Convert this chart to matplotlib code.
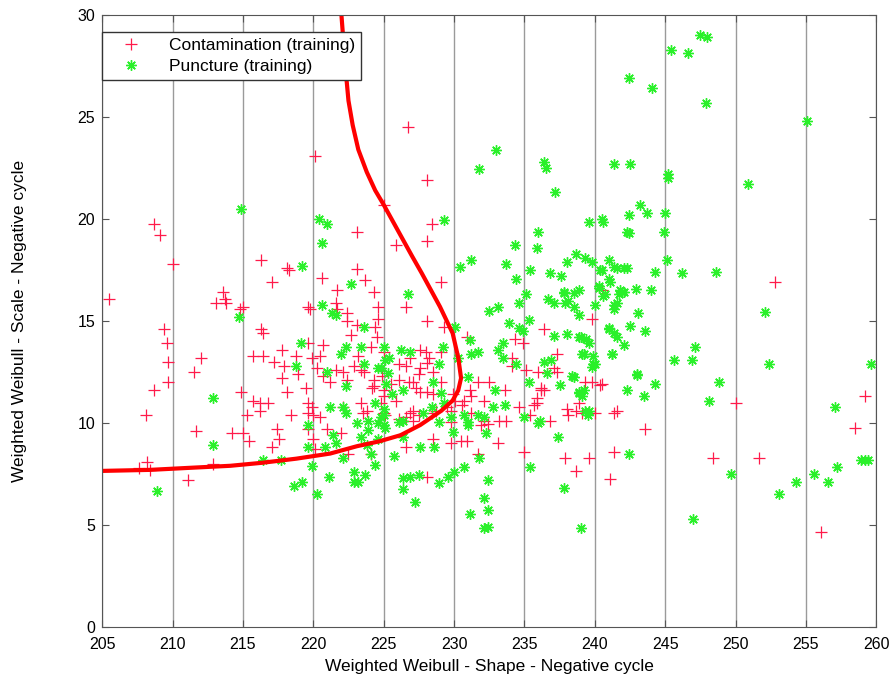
import numpy as np
import matplotlib
matplotlib.use("Agg")
import matplotlib.pyplot as plt

plt.rcParams["font.family"] = ["Liberation Sans", "DejaVu Sans"]

# Training samples (shape, scale) for the two fault classes
contamination_pts = [
    (205.5, 16.1), (208.7, 19.75), (209.1, 19.2), (210.0, 17.8), (209.4, 14.6),
    (209.6, 13.9), (209.7, 13.0), (209.7, 12.0), (208.7, 11.6), (208.1, 10.4),
    (207.6, 7.8), (208.2, 8.1), (208.4, 7.7), (211.1, 7.2), (211.7, 9.6),
    (212.9, 8.0), (214.2, 9.5), (215.0, 9.5), (215.4, 9.1), (217.4, 9.7),
    (217.6, 9.2), (217.1, 8.8), (219.6, 9.7), (220.0, 9.2), (220.1, 8.7),
    (221.0, 9.7), (222.0, 9.5), (222.5, 8.5), (224.1, 8.5), (212.0, 13.2),
    (211.5, 12.5), (213.1, 15.9), (213.6, 16.4), (213.7, 16.1), (213.8, 15.9),
    (214.8, 15.6), (215.0, 15.7), (216.3, 18.0), (218.1, 17.6), (218.3, 17.5),
    (217.1, 16.9), (216.3, 14.6), (216.4, 14.4), (215.7, 13.3), (216.4, 13.3),
    (217.2, 13.0), (217.8, 13.6), (217.9, 12.8), (217.8, 12.2), (218.8, 13.3),
    (218.9, 12.4), (218.1, 11.5), (219.5, 11.7), (219.6, 11.0), (214.9, 11.5),
    (215.7, 11.1), (216.2, 11.0), (216.8, 11.0), (216.2, 10.6), (215.3, 10.4),
    (218.4, 10.4), (219.6, 10.5), (220.0, 10.4), (220.5, 10.3), (219.6, 15.7),
    (219.8, 15.6), (220.6, 17.1), (223.1, 19.35), (223.1, 17.55), (223.7, 17.0),
    (221.7, 16.5), (221.6, 15.9), (221.7, 15.6), (222.4, 15.4), (222.4, 15.0),
    (222.7, 14.3), (223.1, 14.8), (224.3, 16.4), (224.6, 15.7), (224.6, 15.1),
    (224.4, 14.7), (224.5, 14.2), (220.7, 13.8), (219.6, 13.9), (219.9, 13.2),
    (220.5, 13.3), (220.3, 12.7), (220.7, 12.3), (221.2, 12.0), (221.6, 12.6),
    (222.1, 12.5), (222.4, 12.1), (222.9, 12.8), (223.2, 13.3), (223.4, 12.6),
    (223.6, 12.5), (224.1, 13.7), (224.3, 12.1), (224.2, 11.7), (224.9, 12.3),
    (225.0, 11.6), (219.9, 10.8), (222.1, 10.8), (223.4, 11.0), (223.5, 10.5),
    (223.8, 10.6), (224.8, 11.0), (225.1, 10.4), (220.1, 23.1), (225.0, 20.7),
    (226.7, 24.5), (228.1, 21.9), (228.4, 19.75), (228.1, 18.9), (225.9, 18.7),
    (229.1, 16.9), (226.6, 15.7), (228.1, 15.0), (229.3, 14.7), (230.9, 14.2),
    (225.0, 13.5), (227.6, 13.6), (228.0, 13.5), (228.2, 13.2), (228.1, 12.95),
    (229.1, 13.5), (226.1, 12.9), (226.6, 12.8), (226.9, 13.2), (227.6, 12.7),
    (227.5, 12.4), (228.5, 12.5), (226.1, 12.1), (226.8, 12.0), (227.1, 12.0),
    (227.3, 11.7), (225.5, 11.9), (224.3, 11.8), (225.0, 11.3), (225.9, 11.1),
    (227.6, 11.5), (228.1, 11.5), (228.5, 11.4), (229.1, 12.0), (229.9, 11.4),
    (230.1, 11.1), (230.7, 11.1), (231.1, 11.6), (231.2, 11.3), (232.1, 11.1),
    (232.5, 12.0), (231.7, 12.0), (233.6, 11.6), (234.6, 10.8), (235.9, 11.0),
    (236.2, 11.6), (236.0, 12.5), (235.1, 12.6), (234.1, 12.8), (234.3, 14.1),
    (234.9, 13.9), (234.1, 13.2), (236.4, 14.6), (237.3, 13.4), (237.1, 12.7),
    (237.3, 12.5), (236.2, 11.7), (239.8, 15.1), (239.3, 12.0), (239.8, 12.0),
    (240.5, 11.9), (238.0, 10.7), (238.7, 10.6), (238.9, 11.0), (241.6, 10.6),
    (238.1, 10.4), (235.7, 10.9), (235.9, 11.2), (236.8, 10.1), (233.2, 10.1),
    (233.7, 10.1), (232.1, 10.1), (230.6, 10.9), (231.2, 10.5), (229.5, 10.8),
    (229.8, 10.6), (228.7, 10.6), (227.1, 10.6), (226.6, 10.3), (226.1, 10.2),
    (227.1, 10.1), (252.8, 16.9), (250.0, 11.0), (259.2, 11.3), (258.5, 9.75),
    (243.6, 9.7), (225.0, 10.5), (226.9, 10.5), (227.5, 10.4), (228.4, 10.5),
    (229.8, 10.05), (231.9, 9.9), (232.4, 9.95), (235.4, 10.4), (239.1, 10.5),
    (240.0, 10.5), (241.4, 10.5), (228.5, 9.2), (229.8, 9.0), (230.5, 9.1),
    (230.9, 9.1), (226.6, 8.8), (231.7, 8.5), (233.1, 9.0), (235.0, 8.6),
    (237.9, 8.3), (239.6, 8.3), (238.7, 7.65), (241.4, 8.6), (241.1, 7.25),
    (228.1, 7.35), (248.4, 8.3), (251.7, 8.3), (256.1, 4.65), (240.5, 16.5),
    (240.4, 11.85), (236.4, 11.6),
]

puncture_pts = [
    (214.9, 20.5), (220.4, 20.0), (221.0, 19.75), (220.6, 18.8), (219.2, 17.7),
    (222.7, 16.8), (220.6, 15.8), (221.3, 15.4), (221.6, 15.3), (214.7, 15.2),
    (223.6, 14.7), (219.1, 13.9), (222.3, 13.7), (222.0, 13.4), (223.4, 13.7),
    (225.0, 13.7), (218.8, 12.8), (221.0, 12.5), (223.6, 12.9), (224.8, 12.7),
    (225.1, 13.1), (222.3, 11.8), (225.2, 11.9), (212.9, 11.2), (221.2, 10.8),
    (222.1, 10.8), (222.3, 10.5), (223.9, 10.1), (224.4, 11.0), (225.0, 10.7),
    (212.9, 8.9), (208.9, 6.65), (216.4, 8.2), (217.7, 8.2), (218.6, 6.9),
    (219.2, 7.1), (220.3, 6.5), (219.9, 7.9), (219.6, 8.8), (220.8, 8.8),
    (221.1, 7.35), (221.4, 9.4), (221.6, 9.0), (222.1, 8.3), (222.9, 7.6),
    (222.9, 7.1), (223.2, 7.1), (223.7, 7.45), (224.4, 7.95), (224.1, 8.5),
    (223.4, 9.3), (223.1, 10.0), (223.9, 9.65), (225.0, 9.9), (224.6, 9.2),
    (223.8, 8.9), (219.6, 9.9), (242.4, 26.9), (233.0, 23.4), (231.8, 22.45),
    (236.4, 22.8), (236.5, 22.5), (237.2, 21.3), (241.4, 22.7), (242.5, 22.7),
    (242.4, 20.2), (240.5, 20.0), (229.3, 19.95), (247.5, 29.0), (248.0, 28.9),
    (245.4, 28.3), (246.6, 28.15), (244.1, 26.4), (247.9, 25.7), (255.1, 24.8),
    (245.2, 22.2), (245.2, 22.0), (250.9, 21.7), (243.2, 20.7), (243.7, 20.3),
    (245.0, 20.3), (239.6, 19.85), (236.0, 19.35), (242.3, 19.35), (234.3, 18.7),
    (235.9, 18.6), (231.2, 18.0), (230.4, 17.65), (233.7, 17.8), (235.4, 17.5),
    (238.7, 18.3), (239.3, 18.1), (239.8, 17.9), (238.0, 17.9), (241.0, 18.0),
    (240.5, 17.5), (241.6, 17.6), (242.3, 17.6), (236.8, 17.35), (237.6, 17.2),
    (234.4, 17.05), (241.0, 17.05), (241.1, 16.9), (226.7, 16.3), (235.1, 16.3),
    (236.7, 16.1), (237.1, 15.9), (237.8, 16.4), (238.5, 16.35), (238.9, 16.5),
    (238.1, 16.0), (238.5, 15.7), (238.9, 15.3), (240.3, 16.6), (240.6, 16.2),
    (241.7, 16.3), (241.6, 15.9), (241.4, 15.6), (241.8, 16.5), (234.6, 15.9),
    (233.1, 15.7), (232.5, 15.5), (235.3, 15.05), (233.9, 14.9), (234.6, 14.65),
    (234.9, 14.5), (237.1, 14.25), (239.0, 14.2), (239.6, 13.9), (241.0, 14.65),
    (241.4, 14.4), (241.6, 14.2), (242.1, 13.8), (241.2, 13.4), (239.2, 13.4),
    (239.9, 13.3), (240.0, 12.9), (239.8, 12.75), (233.1, 13.6), (233.5, 13.9),
    (233.5, 13.2), (234.4, 12.9), (236.4, 13.0), (236.6, 12.45), (238.4, 12.3),
    (237.5, 11.85), (238.9, 11.5), (239.1, 11.3), (242.3, 11.6), (235.3, 12.0),
    (230.1, 14.7), (231.1, 14.05), (231.2, 13.4), (231.7, 13.5), (230.3, 13.2),
    (231.0, 12.25), (232.9, 11.6), (233.6, 10.9), (232.8, 10.8), (231.7, 10.4),
    (231.0, 10.05), (229.8, 10.3), (229.3, 11.0), (229.1, 11.45), (228.5, 12.0),
    (228.9, 12.9), (229.2, 13.7), (226.9, 13.5), (226.2, 13.6), (225.4, 13.2),
    (224.6, 12.7), (225.3, 12.45), (225.6, 11.4), (226.4, 11.6), (228.4, 10.8),
    (227.8, 10.5), (226.4, 10.1), (225.0, 10.4), (224.6, 10.0), (236.1, 10.1),
    (235.0, 10.3), (239.6, 10.6), (244.9, 19.35), (245.1, 18.0), (242.1, 17.6),
    (244.3, 17.4), (246.2, 17.35), (248.6, 17.4), (242.1, 16.4), (242.9, 16.55),
    (244.0, 16.5), (243.1, 15.4), (252.1, 15.45), (242.5, 14.75), (243.6, 14.5),
    (247.1, 13.7), (246.9, 13.1), (245.6, 13.1), (252.4, 12.9), (259.6, 12.9),
    (243.0, 12.4), (244.3, 11.9), (243.5, 11.3), (248.8, 12.0), (248.1, 11.1),
    (257.1, 10.8), (224.8, 10.3), (225.1, 9.75), (226.1, 10.05), (226.4, 9.3),
    (225.7, 8.4), (227.6, 8.8), (228.6, 8.8), (228.9, 10.05), (229.9, 9.55),
    (230.7, 10.4), (231.0, 9.9), (232.1, 10.3), (232.3, 9.5), (231.8, 8.3),
    (230.7, 7.85), (230.0, 7.6), (229.6, 7.35), (228.9, 7.05), (227.5, 7.45),
    (226.9, 7.35), (226.4, 7.3), (226.4, 6.75), (227.2, 6.15), (232.4, 7.2),
    (232.1, 6.3), (232.4, 5.75), (231.1, 5.55), (232.1, 4.85), (232.4, 4.9),
    (236.0, 10.0), (237.4, 9.3), (235.4, 7.85), (237.8, 6.8), (239.0, 4.85),
    (239.5, 10.4), (242.4, 8.5), (247.0, 5.3), (249.7, 7.5), (253.1, 6.5),
    (254.3, 7.1), (255.6, 7.5), (256.6, 7.1), (257.2, 7.85), (258.9, 8.2),
    (259.2, 8.2), (259.4, 8.2), (240.6, 19.85), (242.4, 19.3), (240.4, 17.5),
    (241.4, 17.65), (240.3, 16.7), (240.7, 16.3), (241.9, 16.4), (237.8, 16.35),
    (237.9, 15.9), (240.0, 15.8), (241.4, 15.8), (241.0, 14.6), (238.0, 14.35),
    (238.9, 14.2), (239.4, 14.1), (239.1, 13.4), (241.2, 13.4), (239.9, 12.9),
    (236.9, 13.1), (238.5, 12.25), (243.0, 12.35), (239.2, 11.6), (238.9, 11.45),
    (239.3, 10.6),
]

# Decision boundary between the two classes
boundary_x = [222.0, 222.3, 222.5, 222.8, 223.2, 223.8, 224.4, 225.0,
              225.6, 226.2, 227.0, 227.7, 229.0, 229.9, 230.3, 230.5,
              230.3, 229.9, 229.1, 227.6, 226.2, 224.7, 223.1, 221.2,
              218.8, 216.4, 214.1, 211.2, 208.4, 205.0]
boundary_y = [30.0, 27.3, 25.8, 24.6, 23.4, 22.3, 21.4, 20.7,
              19.95, 19.2, 18.2, 17.35, 15.7, 14.4, 13.2, 12.2,
              11.6, 11.1, 10.6, 9.9, 9.4, 9.1, 8.86, 8.5,
              8.25, 8.05, 7.9, 7.8, 7.7, 7.65]

x_ticks = np.arange(205, 261, 5)
y_ticks = np.arange(0, 31, 5)

contam = np.array(contamination_pts)
punct = np.array(puncture_pts)

fig = plt.figure(figsize=(8.96, 6.8), dpi=100)
ax = fig.add_axes([0.114, 0.078, 0.864, 0.9])

ax.plot(contam[:, 0], contam[:, 1], linestyle="none", marker="+",
        color="#ff1a4a", markersize=8, markeredgewidth=0.9,
        label="Contamination (training)")
ax.plot(punct[:, 0], punct[:, 1], linestyle="none", marker=(8, 2, 0),
        color="#2af02a", markersize=7.5, markeredgewidth=1.0,
        label="Puncture (training)")
ax.plot(boundary_x, boundary_y, color="#ff0000", linewidth=3)

ax.set_xlim(205, 260)
ax.set_ylim(0, 30)
ax.set_xticks(x_ticks)
ax.set_yticks(y_ticks)
ax.xaxis.grid(True, color="#9a9a9a", linewidth=1.0, linestyle="-")
ax.set_axisbelow(True)
ax.tick_params(direction="in", length=5, top=True, right=True,
               labelsize=11.5, color="#555555")
ax.tick_params(axis="x", pad=7)
ax.tick_params(axis="y", pad=5)
for side in ax.spines.values():
    side.set_color("#555555")

ax.set_xlabel("Weighted Weibull - Shape - Negative cycle", fontsize=12.5, labelpad=5)
ax.set_ylabel("Weighted Weibull - Scale - Negative cycle", fontsize=12.5, labelpad=36)

leg = ax.legend(loc="upper left", bbox_to_anchor=(0.0, 0.972), fontsize=12.5,
                frameon=True, fancybox=False, framealpha=1.0,
                edgecolor="#333333", borderaxespad=0.0, handlelength=2.6,
                handletextpad=0.9, borderpad=0.35, labelspacing=0.3)
leg.get_frame().set_linewidth(1.0)

fig.savefig("out.png", dpi=100)
